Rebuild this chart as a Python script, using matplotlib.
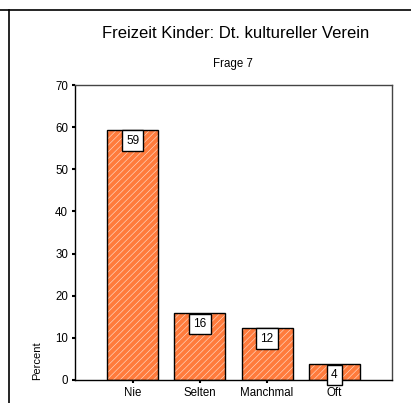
import matplotlib
matplotlib.use('Agg')
import matplotlib.pyplot as plt
from matplotlib.lines import Line2D

categories = ['Nie', 'Selten', 'Manchmal', 'Oft']
percent = [59.4, 15.8, 12.4, 3.7]
labels = ['59', '16', '12', '4']

plt.rcParams['font.family'] = ['Liberation Sans', 'DejaVu Sans']
plt.rcParams['hatch.linewidth'] = 0.45

W, H = 411, 403
fig = plt.figure(figsize=(W / 100, H / 100), dpi=100)
ax = fig.add_axes([75 / W, 1 - 380 / H, 317 / W, 295 / H])

x = range(len(categories))
# fill with white hatch, then black outline on top
ax.bar(x, percent, width=0.76, color='#ff7b3c', edgecolor='#ffd8c4', hatch='/////', linewidth=0, zorder=2)
ax.bar(x, percent, width=0.76, fill=False, edgecolor='black', linewidth=1.0, zorder=3)

for i, (v, lab) in enumerate(zip(percent, labels)):
    ax.annotate(lab, (i, v), xytext=(0, -3.5), textcoords='offset points',
                ha='center', va='top', fontsize=8.5, zorder=4,
                bbox=dict(boxstyle='square,pad=0.35', facecolor='white', edgecolor='black', linewidth=1.0))

ax.set_xlim(-0.86, 3.86)
ax.set_ylim(0, 70)
ax.set_yticks(range(0, 71, 10))
ax.set_xticks(list(x))
ax.set_xticklabels(categories)
ax.tick_params(axis='both', direction='out', length=2, width=1.5, labelsize=8.3, pad=3)
for side in ['top', 'right']:
    ax.spines[side].set_color('#444444')
for s in ax.spines.values():
    s.set_linewidth(1.0)

fig.text(37 / W, 1 - 380 / H, 'Percent', rotation=90, ha='center', va='bottom', fontsize=8)
fig.text(236 / W, 1 - 33 / H, 'Freizeit Kinder: Dt. kultureller Verein', ha='center', va='center', fontsize=12)
fig.text(233 / W, 1 - 64 / H, 'Frage 7', ha='center', va='center', fontsize=8.3)

# outer frame lines
fig.add_artist(Line2D([0, 1], [1 - 10 / H, 1 - 10 / H], color='black', linewidth=1.2, transform=fig.transFigure))
fig.add_artist(Line2D([9 / W, 9 / W], [0, 1 - 10 / H], color='black', linewidth=1.2, transform=fig.transFigure))

plt.savefig('out.png', dpi=100)
